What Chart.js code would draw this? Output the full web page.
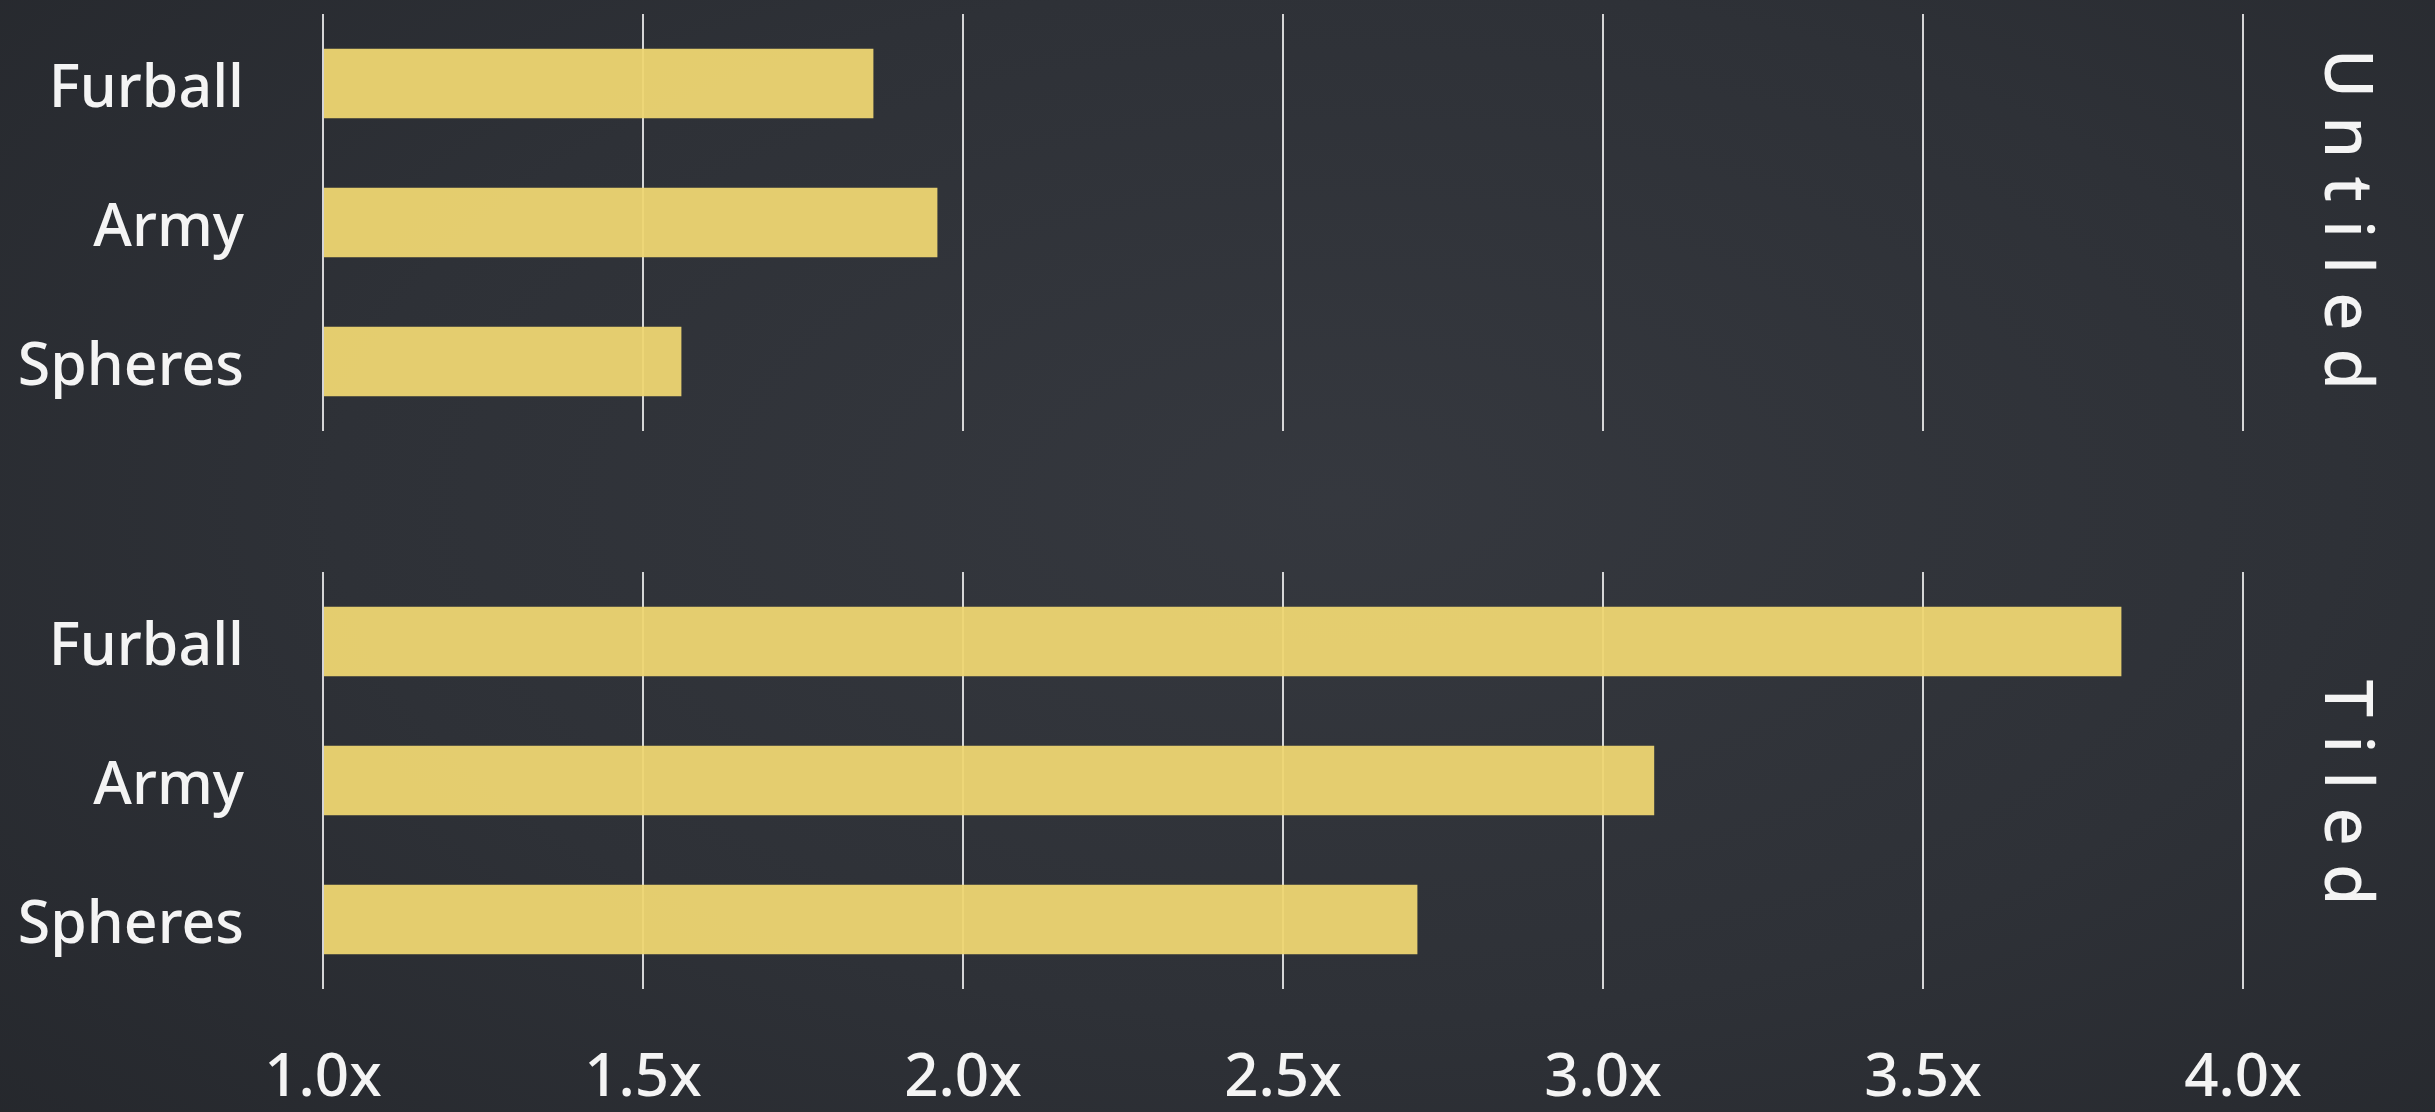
<!DOCTYPE html>
<html>
<head>
<meta charset="utf-8">
<title>Speedup: Untiled vs Tiled</title>
<script src="https://cdn.jsdelivr.net/npm/chart.js@4.4.1/dist/chart.umd.min.js"></script>
<style>
  html, body { margin: 0; padding: 0; width: 2435px; height: 1112px; overflow: hidden; }
  body {
    background-color: #2e3137;
    background-image:
      radial-gradient(ellipse 75% 85% at 55% 45%, rgba(60,63,70,0.5) 0%, rgba(46,49,55,0.2) 55%, rgba(30,32,36,0.55) 100%);
  }
  .panel { position: absolute; left: 0; width: 2435px; }
  #panelTop { top: 0; height: 500px; }
  #panelBottom { top: 500px; height: 612px; }
</style>
</head>
<body>
<div class="panel" id="panelTop"><canvas id="chartTop"></canvas></div>
<div class="panel" id="panelBottom"><canvas id="chartBottom"></canvas></div>
<script>
// Benchmark scenes and their speedups
const categories = ['Furball', 'Army', 'Spheres'];
const untiledSpeedup = [1.86, 1.96, 1.56];
const tiledSpeedup = [3.81, 3.08, 2.71];
const groupTitles = ['Untiled', 'Tiled'];

// Speedup axis ticks
const tickValues = [1.0, 1.5, 2.0, 2.5, 3.0, 3.5, 4.0];
const tickLabels = ['1.0x', '1.5x', '2.0x', '2.5x', '3.0x', '3.5x', '4.0x'];

const FONT = '"Noto Sans", "DejaVu Sans", sans-serif';
const TEXT = '#f4f4f4';
const BAR = 'rgba(238, 214, 114, 0.95)';
const GRID = 'rgba(232, 232, 232, 0.9)';

// Rotated group title drawn in the right margin of each panel
const groupTitlePlugin = {
  id: 'groupTitle',
  afterDraw(chart, args, opts) {
    const { ctx, chartArea } = chart;
    ctx.save();
    ctx.font = '500 67px ' + FONT;
    ctx.fillStyle = TEXT;
    ctx.letterSpacing = '18px';
    ctx.textAlign = 'center';
    ctx.textBaseline = 'alphabetic';
    const cy = (chartArea.top + chartArea.bottom) / 2 + (opts.dy || 0);
    ctx.translate(chartArea.right + 82, cy);
    ctx.rotate(Math.PI / 2);
    ctx.fillText(opts.text, 9, 0);
    ctx.restore();
  }
};

function makeChart(canvasId, values, title, opts) {
  return new Chart(document.getElementById(canvasId), {
    type: 'bar',
    data: {
      labels: categories,
      datasets: [{
        data: values,
        base: 1,
        backgroundColor: BAR,
        borderWidth: 0,
        barPercentage: 0.5,
        categoryPercentage: 1.0
      }]
    },
    options: {
      indexAxis: 'y',
      responsive: true,
      maintainAspectRatio: false,
      animation: false,
      layout: { padding: { top: opts.padTop, right: 192, bottom: 0, left: 0 } },
      plugins: {
        legend: { display: false },
        tooltip: { enabled: false },
        groupTitle: { text: title, dy: opts.titleDy }
      },
      scales: {
        x: {
          type: 'linear',
          min: tickValues[0],
          max: tickValues[tickValues.length - 1],
          afterBuildTicks(scale) {
            scale.ticks = tickValues.map(v => ({ value: v }));
          },
          afterFit(scale) {
            scale.height = opts.xHeight;
            scale.paddingLeft = 0;
            scale.paddingRight = 0;
          },
          border: { display: false },
          grid: { color: GRID, lineWidth: 2, drawTicks: false },
          ticks: {
            display: opts.showTicks,
            padding: 54,
            color: TEXT,
            font: { family: FONT, size: 60, weight: '500' },
            maxRotation: 0,
            autoSkip: false,
            callback: (v) => tickLabels[tickValues.indexOf(v)]
          }
        },
        y: {
          afterFit(scale) {
            scale.width = 323;
            scale.paddingTop = 0;
            scale.paddingBottom = 0;
          },
          border: { display: false },
          grid: { display: false, drawTicks: false },
          ticks: {
            padding: 79,
            labelOffset: 7,
            color: TEXT,
            font: { family: FONT, size: 59, weight: '500' }
          }
        }
      }
    },
    plugins: [groupTitlePlugin]
  });
}

makeChart('chartTop', untiledSpeedup, groupTitles[0],
  { padTop: 14, xHeight: 69, showTicks: false, titleDy: -3 });
makeChart('chartBottom', tiledSpeedup, groupTitles[1],
  { padTop: 72, xHeight: 123, showTicks: true, titleDy: 12 });
</script>
</body>
</html>
